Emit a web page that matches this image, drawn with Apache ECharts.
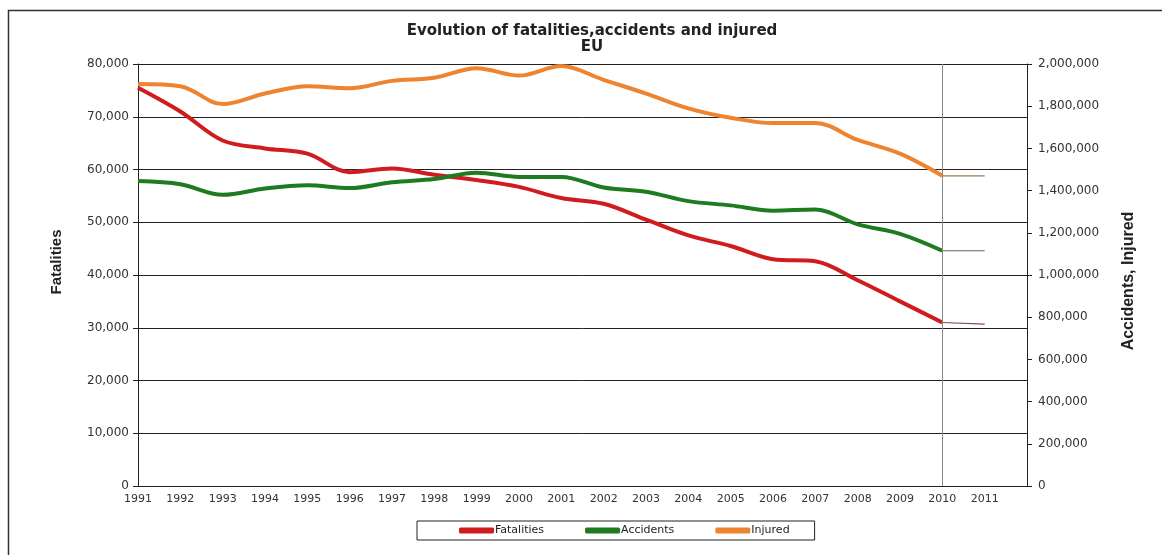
<!DOCTYPE html>
<html>
<head>
<meta charset="utf-8">
<script src="https://cdn.jsdelivr.net/npm/echarts@6/dist/echarts.min.js"></script>
<style>
html,body{margin:0;padding:0;background:#fff;}
#chart{width:1162px;height:555px;}
</style>
</head>
<body>
<div id="chart"></div>
<script>
const years = [1991,1992,1993,1994,1995,1996,1997,1998,1999,2000,2001,2002,2003,2004,2005,2006,2007,2008,2009,2010,2011];
const fatalities = [75500,71000,65500,64000,63000,59500,60200,59000,58000,56700,54600,53500,50500,47500,45500,43000,42600,39000,35000,31000,30700];
const accidents = [1445000,1430000,1380000,1410000,1425000,1412000,1440000,1455000,1485000,1465000,1465000,1415000,1395000,1350000,1330000,1305000,1310000,1240000,1195000,1115000,1115000];
const injured = [1905000,1895000,1810000,1860000,1895000,1885000,1920000,1935000,1980000,1945000,1990000,1925000,1860000,1790000,1745000,1720000,1720000,1640000,1575000,1470000,1470000];
const leftTicks = [0,10000,20000,30000,40000,50000,60000,70000,80000];
const rightTicks = [0,200000,400000,600000,800000,1000000,1200000,1400000,1600000,1800000,2000000];
const names = ['Fatalities','Accidents','Injured'];
const colors = ['#d01c1f','#1f7b1f','#ee8330'];
const tailColors = ['#8a4a4a','#4f6f4f','#9a7a5a'];

const lastYear = 2010;
function mainPart(vals){ return years.map((y,i)=>[y,vals[i]]).filter(p=>p[0]<=lastYear); }
function tailPart(vals){ return years.map((y,i)=>[y,vals[i]]).filter(p=>p[0]>=lastYear); }
const fmt = v => v.toLocaleString('en-US');

const chart = echarts.init(document.getElementById('chart'));
const font = 'DejaVu Sans';
const seriesData = [fatalities, accidents, injured];
const series = [];
seriesData.forEach((vals,k)=>{
  series.push({
    name: names[k], type:'line', yAxisIndex: k===0?0:1, smooth:0.35,
    data: mainPart(vals), symbol:'none',
    lineStyle:{color:colors[k], width:4}, itemStyle:{color:colors[k]},
    z: 3+k,
    markLine: k===0 ? {silent:true, symbol:'none', label:{show:false},
      lineStyle:{color:'#8a8a8a', width:1, type:'solid'},
      data:[{xAxis:lastYear}]} : undefined
  });
  series.push({
    name: names[k]+'_tail', type:'line', yAxisIndex: k===0?0:1,
    data: tailPart(vals), symbol:'none',
    lineStyle:{color:tailColors[k], width:1.2}, z: 3+k
  });
});

chart.setOption({
  animation:false,
  backgroundColor:'#fff',
  title:{
    text:'Evolution of fatalities,accidents and injured\nEU',
    left:587, top:18, textAlign:'center',
    textStyle:{fontFamily:font, fontWeight:'bold', fontSize:15, color:'#222', lineHeight:16}
  },
  graphic:[
    {type:'rect', shape:{x:8.5,y:10.5,width:1300,height:700}, style:{fill:null, stroke:'#333', lineWidth:1.5}, silent:true},
    {type:'text', x:57, y:262, rotation:Math.PI/2,
      style:{text:'Fatalities', fontFamily:'Liberation Sans', fontWeight:'bold', fontSize:15, fill:'#222', textAlign:'center', textVerticalAlign:'middle'}},
    {type:'text', x:1129, y:281, rotation:Math.PI/2,
      style:{text:'Accidents, Injured', fontFamily:'Liberation Sans', fontWeight:'bold', fontSize:16, fill:'#222', textAlign:'center', textVerticalAlign:'middle'}}
  ],
  legend:{
    data:names, left:417, top:521, orient:'horizontal',
    padding:[4,25,4,42], itemGap:41, itemWidth:35, itemHeight:6, icon:'roundRect',
    borderColor:'#222', borderWidth:1, backgroundColor:'#fff',
    textStyle:{fontFamily:font, fontSize:11, color:'#222', padding:[0,0,0,-4]}
  },
  grid:{left:138, right:135, top:64, bottom:69, containLabel:false},
  xAxis:{
    type:'value', min:years[0], max:years[years.length-1]+1, interval:1,
    axisLine:{show:true, onZero:false, lineStyle:{color:'#222', width:1}},
    axisTick:{show:false},
    splitLine:{show:false},
    axisLabel:{fontFamily:font, fontSize:11, color:'#333', margin:8,
      formatter: v => years.includes(v) ? String(v) : ''}
  },
  yAxis:[
    {type:'value', min:leftTicks[0], max:leftTicks[leftTicks.length-1], interval:10000,
      axisLine:{show:true, lineStyle:{color:'#222', width:1}},
      axisTick:{show:true, length:5, lineStyle:{color:'#222'}},
      splitLine:{show:true, lineStyle:{color:'#222', width:1}},
      axisLabel:{fontFamily:font, fontSize:12, color:'#333', margin:9, formatter:fmt}},
    {type:'value', min:rightTicks[0], max:rightTicks[rightTicks.length-1], interval:200000,
      position:'right',
      axisLine:{show:true, lineStyle:{color:'#222', width:1}},
      axisTick:{show:true, length:5, lineStyle:{color:'#222'}},
      splitLine:{show:false},
      axisLabel:{fontFamily:font, fontSize:12, color:'#333', margin:11, formatter:fmt}}
  ],
  series: series
});
</script>
</body>
</html>
